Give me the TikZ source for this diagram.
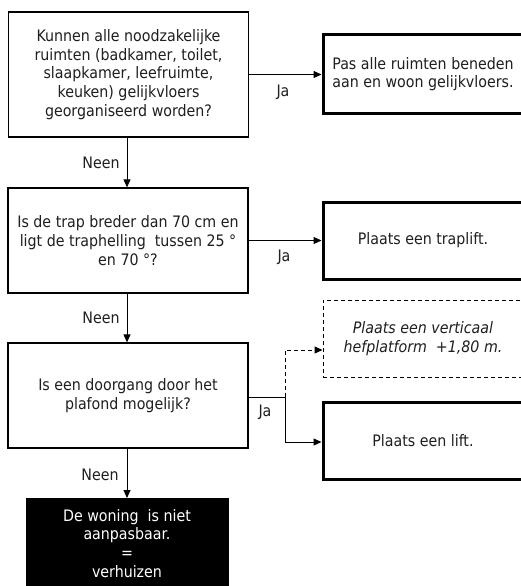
\documentclass[tikz,border=0pt]{standalone}
\usepackage{fontspec}
\setmainfont{DejaVu Sans Condensed}
\usetikzlibrary{arrows.meta}
\begin{document}
\begin{tikzpicture}[x=1pt,y=-1pt,
  every node/.style={font=\fontsize{15.8}{18.7}\selectfont, text=black!88},
  question/.style={draw, line width=1.3pt, inner sep=0pt, align=center,
    minimum width=240pt, minimum height=105pt},
  result/.style={draw, line width=3pt, inner sep=0pt, align=center,
    minimum width=200pt, minimum height=77pt},
  option/.style={draw, line width=1pt, dash pattern=on 4pt off 3pt, inner sep=0pt,
    align=center, minimum width=200pt, minimum height=77pt, font=\fontsize{15.8}{18.7}\selectfont\itshape},
  final/.style={fill=black, draw=black, text=white, inner xsep=0pt, inner ysep=11pt,
    align=center, minimum width=202pt},
  conn/.style={line width=1pt, -{Triangle[length=8pt,width=7pt]}},
  plain/.style={line width=1pt},
  lbl/.style={inner sep=1pt}
]
\useasboundingbox (0,0) rectangle (520,586);
\fill[white] (0,0) rectangle (520,586);

% questions
\node[question, minimum height=125pt] (q1) at (128.5,74.5)
  {Kunnen alle noodzakelijke\\ruimten (badkamer, toilet,\\slaapkamer, leefruimte,\\keuken) gelijkvloers\\georganiseerd worden?};
\node[question] (q2) at (128,240.5)
  {Is de trap breder dan 70 cm en\\ligt de traphelling \ tussen 25 °\\en 70 °?};
\node[question] (q3) at (128,395.5)
  {Is een doorgang door het\\plafond mogelijk?};

% outcomes
\node[result, minimum height=78pt] (r1) at (423,74)
  {Pas alle ruimten beneden\\aan en woon gelijkvloers.};
\node[result] (r2) at (423,240.5) {Plaats een traplift.};
\node[option] (r3) at (423,338.5) {Plaats een verticaal\\hefplatform \ +1,80 m.};
\node[result] (r4) at (423,440.5) {Plaats een lift.};
\node[final, anchor=north] (f) at (127,498)
  {De woning \ is niet\\aanpasbaar.\\=\\verhuizen};

% connectors
\draw[conn] (q1.east) -- (q1.east -| r1.west);
\draw[conn] (q1.south -| 127,0) -- (q2.north -| 127,0);
\draw[conn] (q2.east) -- (q2.east -| r2.west);
\draw[conn] (q2.south -| 127,0) -- (q3.north -| 127,0);
\coordinate (j) at (285,397);
\draw[plain] (q3.east |- j) -- (j);
\draw[conn, dash pattern=on 4pt off 3pt] (j) |- ([yshift=-11.5pt]r3.west);
\draw[conn] (j) |- ([yshift=-1.5pt]r4.west);
\draw[conn] (q3.south -| 127,0) -- (f.north -| 127,0);

% branch labels
\node[lbl] (ja1) at (283,92) {Ja};
\node[lbl] (ja2) at (284,257) {Ja};
\node[lbl] (ja3) at (265,412) {Ja};
\node[lbl] (n1) at (101,163) {Neen};
\node[lbl] (n2) at (101,318) {Neen};
\node[lbl] (n3) at (100,475) {Neen};
\end{tikzpicture}
\end{document}
